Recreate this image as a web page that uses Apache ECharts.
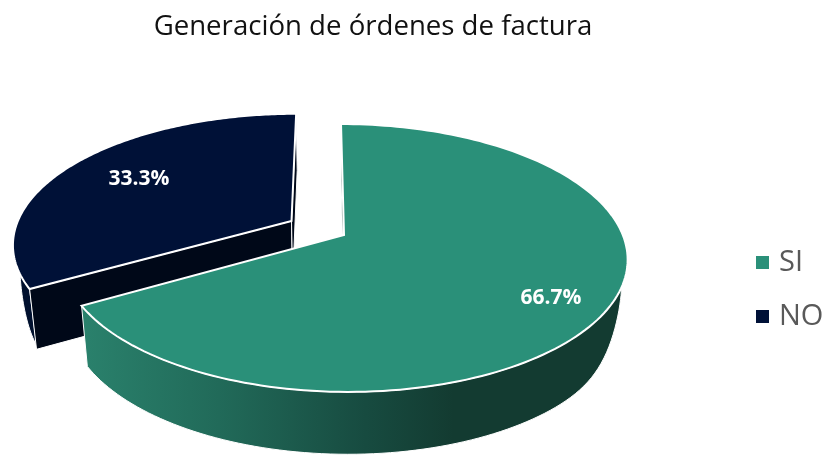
<!DOCTYPE html>
<html>
<head>
<meta charset="utf-8">
<title>Generación de órdenes de factura</title>
<style>
  html, body { margin: 0; padding: 0; background: #fff; }
  #chart { width: 827px; height: 455px; }
</style>
<script src="https://cdn.jsdelivr.net/npm/echarts@6/dist/echarts.min.js"></script>
</head>
<body>
<div id="chart"></div>
<script>
const chartTitle = 'Generación de órdenes de factura'
const categories = ['SI', 'NO']
const values = [66.7, 33.3]
const drawOrder = [1, 0] // the exploded NO slice sits behind SI

const topColors = ['#2a9079', '#001137']
const wallColors = [null, '#00102e']
const faceColors = ['#133a30', '#000818']
const labelAt = [[551, 298], [139, 179]]

// flat disc to screen: perspective projection of a tilted pie
const cx = 344
const cy = 235
const scaleX = 278.8
const scaleY = 130
const shearX = -3.5
const tilt = 0.1716
const explode = [0, 0.22]

// wall gets shallower toward the slice's outer side, [side, reach, power]
const wallTaper = [[1, 283, 20], [-1, 331, 40]]

function project(u, v) {
  const w = 1 + tilt * v
  return [cx + (scaleX * u + shearX * v) / w, cy - scaleY * v / w]
}

// same point on the underside of the pie
function drop(p, depthScale) {
  const k = depthScale === undefined ? 1 : depthScale
  return [cx + (p[0] - cx) * 0.978, p[1] + (60.5 + (p[1] - 300) * 0.02) * k]
}

function dropWall(p, idx) {
  const taper = wallTaper[idx]
  const dx = (p[0] - cx) * taper[0]
  if (dx <= 0) return drop(p)
  return drop(p, 1 - 0.52 * Math.pow(Math.min(dx / taper[1], 1), taper[2]))
}

function sliceShape(start, end, off) {
  const mid = (start + end) / 2
  const ox = Math.sin(mid) * off
  const oy = Math.cos(mid) * off
  const arc = []
  const steps = 160
  for (let i = 0; i <= steps; i++) {
    const t = start + (end - start) * i / steps
    arc.push(project(ox + Math.sin(t), oy + Math.cos(t)))
  }
  return { apex: project(ox, oy), arc }
}

const total = values.reduce((a, b) => a + b, 0)

function angleRange(idx) {
  let before = 0
  for (let i = 0; i < idx; i++) before += values[i]
  return [before / total * Math.PI * 2, (before + values[idx]) / total * Math.PI * 2]
}

const sideGradient = new echarts.graphic.LinearGradient(83, 0, 627, 0, [
  { offset: 0, color: '#2a816c' },
  { offset: 0.25, color: '#216a59' },
  { offset: 0.52, color: '#174b40' },
  { offset: 0.68, color: '#133b31' },
  { offset: 1, color: '#133b31' }
], true)

function renderSlice(idx) {
  return function (params, api) {
    const range = angleRange(idx)
    const s = sliceShape(range[0], range[1], explode[idx])
    const bottomArc = s.arc.map(p => dropWall(p, idx)).reverse()
    const first = s.arc[0]
    const last = s.arc[s.arc.length - 1]
    const poly = (points, fill, lineWidth) => ({
      type: 'polygon',
      shape: { points },
      style: { fill, stroke: '#fff', lineWidth }
    })
    const children = []
    children.push(poly(s.arc.concat(bottomArc), idx === 0 ? sideGradient : wallColors[idx], 1))
    // the cut at the slice start only shows on the front of NO
    children.push(poly([s.apex, drop(s.apex), drop(first), first], faceColors[idx], 1))
    if (idx === 1) {
      children.push(poly([s.apex, drop(s.apex), drop(last), last], faceColors[idx], 1))
    }
    children.push(poly([s.apex].concat(s.arc), topColors[idx], 2))
    children.push({
      type: 'text',
      x: labelAt[idx][0],
      y: labelAt[idx][1],
      style: {
        text: api.value(0).toFixed(1) + '%',
        fill: '#fff',
        font: 'bold 21px "Open Sans"',
        align: 'center',
        verticalAlign: 'middle'
      }
    })
    return { type: 'group', children }
  }
}

const series = drawOrder.map(idx => ({
  type: 'custom',
  name: categories[idx],
  coordinateSystem: 'none',
  itemStyle: { color: topColors[idx] },
  data: [[values[idx]]],
  renderItem: renderSlice(idx),
  silent: true
}))

const chart = echarts.init(document.getElementById('chart'), null, { renderer: 'canvas' })
chart.setOption({
  animation: false,
  backgroundColor: '#fff',
  title: {
    text: chartTitle,
    left: 368,
    top: 8,
    textAlign: 'center',
    textStyle: { fontFamily: 'Open Sans', fontWeight: 'normal', fontSize: 27.6, color: '#111' }
  },
  legend: {
    data: categories,
    orient: 'vertical',
    left: 751,
    top: 243,
    icon: 'rect',
    itemWidth: 13,
    itemHeight: 13,
    itemGap: 25,
    textStyle: { fontFamily: 'Open Sans', fontSize: 29, color: '#595959', padding: [0, 0, 0, 5] }
  },
  series
})
</script>
</body>
</html>
